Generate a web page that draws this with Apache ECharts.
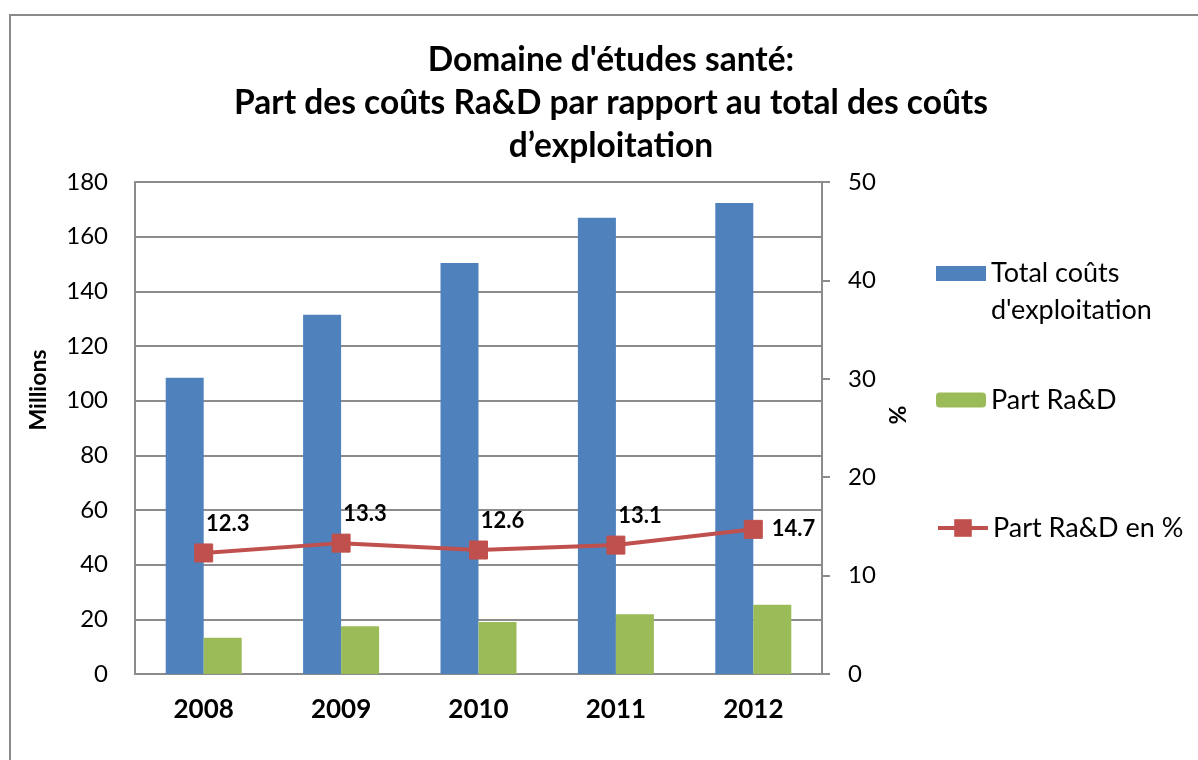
<!DOCTYPE html>
<html>
<head>
	<meta charset="utf-8">
	<title></title>
	<style>
		html, body { margin: 0; padding: 0; background: #fff; }
		#box_1 { width: 1198px; height: 760px; }
	</style>
</head>
<body>
	<div id="box_1"></div>
</body>
<script src="https://cdn.jsdelivr.net/npm/echarts@6/dist/echarts.min.js"></script>
<script>
	var years = ['2008', '2009', '2010', '2011', '2012']
	var totalCouts = [108.4, 131.4, 150.4, 166.9, 172.3]   // Millions
	var partRaD = [13.3, 17.5, 19.0, 21.9, 25.3]          // Millions
	var partPct = [12.3, 13.3, 12.6, 13.1, 14.7]          // %
	var leftTicks = { min: 0, max: 180, interval: 20 }
	var rightTicks = { min: 0, max: 50, interval: 10 }

	var font = 'Lato, "Open Sans", sans-serif'
	var gridColor = '#8c8c8c'
	var myChart = echarts.init(document.getElementById('box_1'))

	// labels sit above-right of the markers, the last one on the right
	var pctData = []
	for (var i = 0; i < partPct.length; i++) {
		var last = i === partPct.length - 1
		pctData.push({
			value: partPct[i],
			label: last ? { position: 'right', offset: [4, 0] } : { position: 'top', offset: [24, -4] }
		})
	}

	// legend rect drawn in the top part of a taller icon, so it lines up with the first text line
	var topRectIcon = 'path://M0,0L50,0L50,15L0,15Z M0,52L0.01,52'

	var option = {
		animation: false,
		textStyle: { fontFamily: font },
		graphic: [{
			type: 'rect',
			shape: { x: 10, y: 15, width: 1200, height: 760 },
			style: { fill: 'none', stroke: '#8a8a8a', lineWidth: 2 },
			silent: true
		}],
		title: {
			text: "Domaine d'études santé:\nPart des coûts Ra&D par rapport au total des coûts\nd’exploitation",
			left: 606,
			textAlign: 'center',
			top: 34,
			textStyle: { fontFamily: font, fontWeight: 'bold', fontSize: 33.5, lineHeight: 43, color: '#000' }
		},
		legend: [
			{
				data: [{ name: "Total coûts d'exploitation", icon: topRectIcon }],
				left: 936, top: 255, padding: 0,
				itemWidth: 50, itemHeight: 52,
				formatter: function () { return "Total coûts\nd'exploitation" },
				textStyle: { fontFamily: font, fontSize: 27, lineHeight: 37, color: '#000' }
			},
			{
				data: ['Part Ra&D'],
				left: 936, top: 385, padding: 0,
				itemWidth: 50, itemHeight: 15,
				textStyle: { fontFamily: font, fontSize: 27, lineHeight: 30, color: '#000' }
			},
			{
				data: ['Part Ra&D en %'],
				left: 936, top: 513, padding: 0,
				itemWidth: 50, itemHeight: 22,
				lineStyle: { width: 4, color: '#C0504D' },
				textStyle: { fontFamily: font, fontSize: 27, lineHeight: 30, color: '#000' }
			}
		],
		grid: { left: 135, right: 376, top: 182, bottom: 86 },
		xAxis: {
			type: 'category',
			data: years,
			axisTick: { show: false },
			axisLine: { lineStyle: { color: gridColor, width: 2 } },
			axisLabel: { color: '#000', fontWeight: 'bold', fontSize: 26, margin: 23, fontFamily: font }
		},
		yAxis: [
			{
				type: 'value',
				min: leftTicks.min, max: leftTicks.max, interval: leftTicks.interval,
				name: 'Millions',
				nameLocation: 'middle',
				nameRotate: 90,
				nameGap: 85,
				nameTextStyle: { color: '#000', fontWeight: 'bold', fontSize: 23, fontFamily: font, padding: [0, 0, 0, 76] },
				axisLine: { show: true, lineStyle: { color: gridColor, width: 2 } },
				axisTick: { show: false },
				axisLabel: { color: '#000', fontSize: 24, margin: 27, fontFamily: font },
				splitLine: { lineStyle: { color: gridColor, width: 2 } }
			},
			{
				type: 'value',
				position: 'right',
				min: rightTicks.min, max: rightTicks.max, interval: rightTicks.interval,
				name: '%',
				nameLocation: 'middle',
				nameRotate: 90,
				nameGap: 60,
				nameTextStyle: { color: '#000', fontWeight: 'bold', fontSize: 23, fontFamily: font, padding: [0, 0, 0, 26] },
				axisLine: { show: true, lineStyle: { color: gridColor, width: 2 } },
				axisTick: { show: true, length: 8, lineStyle: { color: gridColor, width: 2 } },
				axisLabel: { color: '#000', fontSize: 24, margin: 26, fontFamily: font },
				splitLine: { show: false }
			}
		],
		series: [
			{
				name: "Total coûts d'exploitation",
				type: 'bar',
				data: totalCouts,
				barWidth: 38,
				barGap: '0%',
				itemStyle: { color: '#4F81BD' }
			},
			{
				name: 'Part Ra&D',
				type: 'bar',
				data: partRaD,
				barWidth: 38,
				itemStyle: { color: '#9BBB59' }
			},
			{
				name: 'Part Ra&D en %',
				type: 'line',
				yAxisIndex: 1,
				data: pctData,
				symbol: 'rect',
				symbolSize: 18,
				lineStyle: { color: '#C0504D', width: 4 },
				itemStyle: { color: '#C0504D', borderColor: '#C0504D' },
				label: { show: true, color: '#000', fontWeight: 'bold', fontSize: 22, fontFamily: font },
				z: 5
			}
		]
	}
	myChart.setOption(option)
</script>
</html>
